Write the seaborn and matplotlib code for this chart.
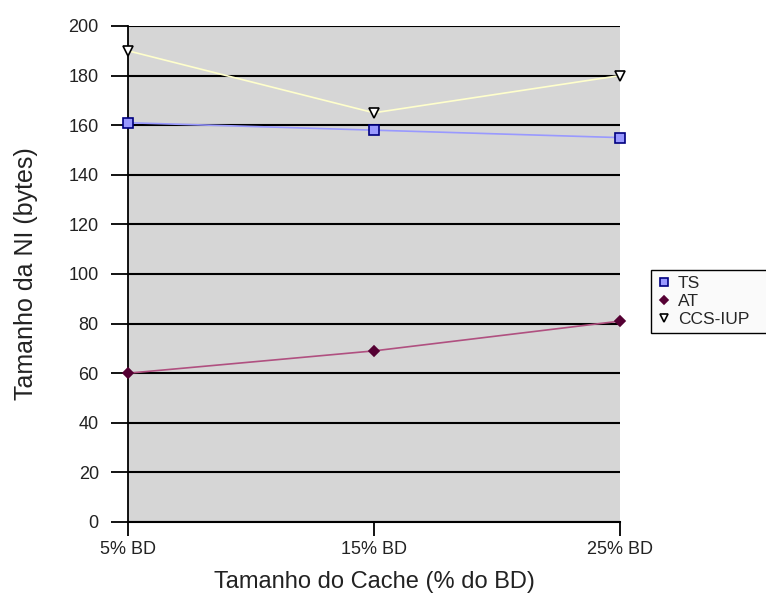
import matplotlib
matplotlib.use("Agg")
import matplotlib.pyplot as plt
import seaborn as sns
import pandas as pd
from matplotlib.lines import Line2D

categories = ["5% BD", "15% BD", "25% BD"]
ts_values = [161, 158, 155]
at_values = [60, 69, 81]
ccs_values = [190, 165, 180]
y_ticks = [0, 20, 40, 60, 80, 100, 120, 140, 160, 180, 200]

sns.set_theme(style="white")
plt.rcParams["font.family"] = ["Liberation Sans", "DejaVu Sans"]

fig = plt.figure(figsize=(7.66, 6.07), dpi=100)
ax = fig.add_axes([128/766, 1-522/607, (620-128)/766, (522-26)/607])
ax.set_facecolor("#d6d6d6")

xpos = list(range(len(categories)))
series = [
    ("TS", ts_values, "#9999ff", "s", "#9999ff", "#000080", 7),
    ("AT", at_values, "#b05080", "D", "#550033", "#550033", 5),
    ("CCS-IUP", ccs_values, "#ffffcc", "v", "white", "black", 7),
]
for name, vals, lc, mk, mfc, mec, ms in series:
    df = pd.DataFrame({"x": xpos, "y": vals})
    sns.lineplot(data=df, x="x", y="y", ax=ax, color=lc, linewidth=1.2,
                 marker=mk, markersize=ms, markerfacecolor=mfc,
                 markeredgecolor=mec, markeredgewidth=1.2, clip_on=False,
                 zorder=3)

ax.set_xlim(0, 2)
ax.set_ylim(0, 200)
ax.set_yticks(y_ticks)
ax.set_xticks(xpos)
ax.set_xticklabels(categories)
ax.yaxis.grid(True, color="black", linewidth=1.5)
ax.xaxis.grid(False)
for s in ["top", "right"]:
    ax.spines[s].set_visible(False)
ax.spines["left"].set_color("black")
ax.spines["left"].set_linewidth(1.3)
ax.spines["bottom"].set_color("black")
ax.spines["bottom"].set_linewidth(1.5)
ax.tick_params(axis="y", length=12, width=1.3, color="black", direction="out",
               left=True, labelsize=13, pad=9, labelcolor="#222222")
ax.tick_params(axis="x", length=10, width=1.3, color="black", direction="out",
               bottom=True, labelsize=13, pad=4, labelcolor="#222222")
ax.set_xlabel("Tamanho do Cache (% do BD)", fontsize=17, color="#222222")
ax.set_ylabel("Tamanho da NI (bytes)", fontsize=18, color="#222222")
ax.xaxis.set_label_coords(0.5, (522-571)/496)
ax.yaxis.set_label_coords((38-128)/492, 0.5)

handles = [Line2D([], [], linestyle="none", marker=mk, markersize=ms*0.9,
                  markerfacecolor=mfc, markeredgecolor=mec, markeredgewidth=1.2)
           for name, vals, lc, mk, mfc, mec, ms in series]
leg = fig.legend(handles, [s[0] for s in series], loc="upper left",
                 bbox_to_anchor=(651/766, 1-270/607, 0.2, 0), mode="expand",
                 fontsize=12.5, frameon=True, fancybox=False, edgecolor="black",
                 facecolor="#fafafa", framealpha=1, handletextpad=0.4,
                 borderpad=0.35, labelspacing=0.15, handlelength=0.8,
                 borderaxespad=0)
leg.get_frame().set_linewidth(1.0)

fig.savefig("out.png", dpi=100, facecolor="white")
